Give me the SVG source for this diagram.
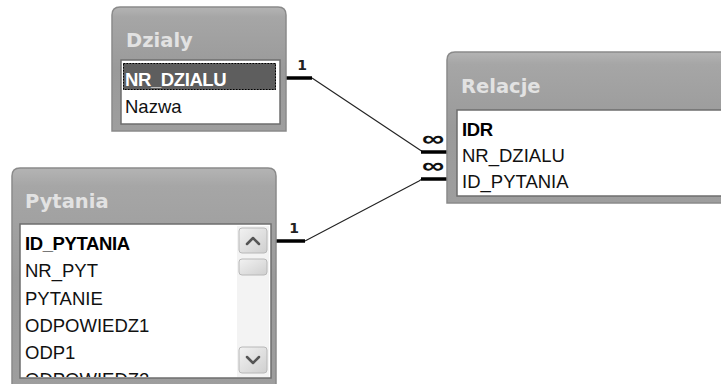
<svg xmlns="http://www.w3.org/2000/svg" width="721" height="384" viewBox="0 0 721 384">
  <style>
    .frame { stroke: #8a8a8a; stroke-width: 1.5; fill: url(#frameGrad); }
    .title { font-family: "DejaVu Sans", Verdana, sans-serif; font-weight: bold; font-size: 19.5px; fill: #e2e2e2; }
    .field { font-family: "Liberation Sans", Arial, sans-serif; font-size: 18.5px; fill: #111; }
    .key { font-family: "Liberation Sans", Arial, sans-serif; font-size: 18.5px; font-weight: bold; fill: #000; letter-spacing: -0.4px; }
    .list { fill: #ffffff; stroke: #6e6e6e; stroke-width: 1.5; }
    .thin { stroke: #222; stroke-width: 1.1; fill: none; }
    .bar { stroke: #000; stroke-width: 3.5; fill: none; }
    .card { font-family: "DejaVu Sans", Verdana, sans-serif; font-weight: bold; font-size: 14px; fill: #222; }
    .many { font-family: "Liberation Sans", Arial, sans-serif; font-weight: bold; font-size: 26px; fill: #111; }
    .sbtn { fill: url(#btnGrad); stroke: #b8b8b8; stroke-width: 1; }
    .chev { stroke: #555; stroke-width: 2.5; fill: none; stroke-linecap: round; stroke-linejoin: round; }
  </style>
  <defs>
    <linearGradient id="frameGrad" x1="0" y1="0" x2="0" y2="1">
      <stop offset="0" stop-color="#b4b4b4"/>
      <stop offset="0.08" stop-color="#a6a6a6"/>
      <stop offset="0.5" stop-color="#9a9a9a"/>
      <stop offset="1" stop-color="#9e9e9e"/>
    </linearGradient>
    <linearGradient id="btnGrad" x1="0" y1="0" x2="1" y2="1">
      <stop offset="0" stop-color="#f2f2f2"/>
      <stop offset="1" stop-color="#cfcfcf"/>
    </linearGradient>
  </defs>

  <rect width="721" height="384" fill="#ffffff"/>

  <!-- relationship lines -->
  <g id="connectors">
    <line class="bar" x1="286" y1="78" x2="312" y2="78"/>
    <polyline class="thin" points="312,78 420,150 423,152"/>
    <line class="bar" x1="421" y1="152" x2="448" y2="152"/>
    <text class="card" x="302" y="70" text-anchor="middle">1</text>
    <text class="many" transform="translate(433,146) scale(1.2,0.85)" text-anchor="middle">∞</text>

    <line class="bar" x1="276" y1="241" x2="305" y2="241"/>
    <polyline class="thin" points="305,241 419,181 422,179"/>
    <line class="bar" x1="421" y1="179" x2="448" y2="179"/>
    <text class="card" x="294" y="233" text-anchor="middle">1</text>
    <text class="many" transform="translate(433,173) scale(1.2,0.85)" text-anchor="middle">∞</text>
  </g>

  <!-- Dzialy table -->
  <g id="dzialy">
    <path class="frame" d="M112,131 V15 Q112,7 120,7 H278 Q286,7 286,15 V131 Z"/>
    <text class="title" x="126" y="47">Dzialy</text>
    <rect class="list" x="121" y="60" width="159" height="64"/>
    <rect x="123" y="63" width="153" height="27" fill="#5e5e5e"/>
    <rect x="123.5" y="63.5" width="152" height="26" fill="none" stroke="#000" stroke-width="1" stroke-dasharray="1.5,1.5"/>
    <text class="key" x="125" y="86" style="fill:#ffffff">NR_DZIALU</text>
    <text class="field" x="125" y="113">Nazwa</text>
  </g>

  <!-- Relacje table -->
  <g id="relacje">
    <path class="frame" d="M447,203 V60 Q447,52 455,52 H730 V203 Z"/>
    <text class="title" x="461" y="93">Relacje</text>
    <rect class="list" x="457" y="110" width="280" height="86"/>
    <text class="key" x="462" y="136">IDR</text>
    <text class="field" x="462" y="162">NR_DZIALU</text>
    <text class="field" x="462" y="188">ID_PYTANIA</text>
  </g>

  <!-- Pytania table -->
  <g id="pytania">
    <path class="frame" d="M12,392 V176 Q12,168 20,168 H268 Q276,168 276,176 V392 Z"/>
    <text class="title" x="25" y="208">Pytania</text>
    <rect class="list" x="20" y="224" width="251" height="154"/>
    <rect x="237" y="226" width="32" height="151" fill="#f3f3f3"/>
    <rect class="sbtn" x="239" y="228" width="28" height="25" rx="3"/>
    <polyline class="chev" points="247,244 253,238 259,244"/>
    <rect class="sbtn" x="239" y="259" width="28" height="16" rx="3"/>
    <rect class="sbtn" x="239" y="347" width="28" height="26" rx="3"/>
    <polyline class="chev" points="247,357 253,363 259,357"/>
    <text class="key" x="25" y="250">ID_PYTANIA</text>
    <text class="field" x="25" y="277">NR_PYT</text>
    <text class="field" x="25" y="305">PYTANIE</text>
    <text class="field" x="25" y="332">ODPOWIEDZ1</text>
    <text class="field" x="25" y="359">ODP1</text>
    <!-- next field row, scrolled partly out of the list box -->
    <svg x="21" y="365" width="215" height="12" overflow="hidden">
      <text class="field" x="4" y="21">ODPOWIEDZ2</text>
    </svg>
  </g>
</svg>
